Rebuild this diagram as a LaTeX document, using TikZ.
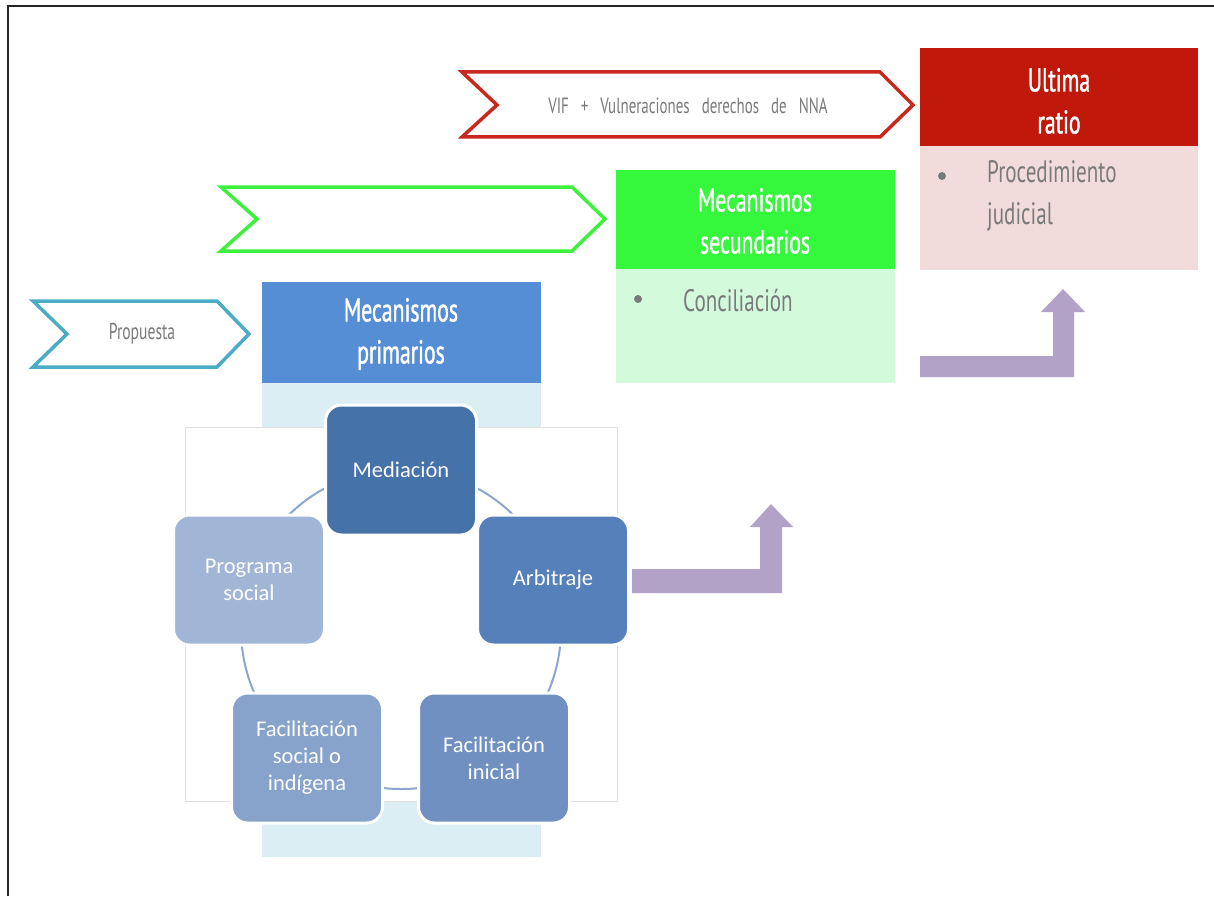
\documentclass[tikz,border=0pt]{standalone}
\usepackage{fontspec}
\setmainfont{Carlito}
\newfontfamily\cond[FakeStretch=0.68]{PT Sans}
\newfontfamily\condb[FakeStretch=0.66,FakeBold=1.2]{PT Sans}
\usetikzlibrary{positioning}
\definecolor{chevblue}{HTML}{4BACC6}
\definecolor{chevgreen}{HTML}{3CF03C}
\definecolor{chevred}{HTML}{C8281E}
\definecolor{hdblue}{HTML}{558ED5}
\definecolor{bdblue}{HTML}{DAEEF3}
\definecolor{hdgreen}{HTML}{35F83D}
\definecolor{bdgreen}{HTML}{D4FADC}
\definecolor{hdred}{HTML}{C0180A}
\definecolor{bdred}{HTML}{F2DCDB}
\definecolor{arrowpurple}{HTML}{B3A2C7}
\definecolor{txtgrey}{HTML}{7A7A7A}
\definecolor{cyc}{HTML}{8BA6CF}
\definecolor{cA}{HTML}{4672AA}
\definecolor{cB}{HTML}{5580B9}
\definecolor{cC}{HTML}{7190C2}
\definecolor{cD}{HTML}{87A3CB}
\definecolor{cE}{HTML}{A1B5D7}
\begin{document}
\begin{tikzpicture}[x=1pt,y=-1pt,
  chev/.style={line width=3.5pt, line join=miter, fill=white},
  chevtext/.style={text=txtgrey, font=\cond\fontsize{23}{26}\selectfont, inner sep=0pt},
  hdtext/.style={text=white, font=\condb\fontsize{33}{42}\selectfont, align=center, inner sep=0pt},
  bullettext/.style={text=txtgrey, font=\cond\fontsize{31}{42}\selectfont, align=left, inner sep=0pt, anchor=west},
  dot/.style={circle, fill=txtgrey, inner sep=0pt, minimum size=8pt},
  cycbox/.style={rounded corners=16pt, draw=white, line width=3pt, minimum width=151pt, minimum height=130pt,
     text=white, font=\fontsize{22.5}{27}\selectfont, align=center, inner sep=2pt},
  bigarrow/.style={fill=arrowpurple, draw=none}
]
\useasboundingbox (0,0) rectangle (1214,896);
\fill[white] (0,0) rectangle (1214,896);
% frame
\draw[line width=1.5pt, black!85] (8,896) -- (8,6) -- (1214,6);

% chevrons
\draw[chev, draw=chevred] (462,72) -- (880,72) -- (913,105) -- (880,137) -- (462,137) -- (497,105) -- cycle;
\node[chevtext, font=\cond\fontsize{22}{26}\selectfont] (vif) at (688,106) {VIF\hspace{12pt}+\hspace{12pt}Vulneraciones\hspace{12pt}derechos\hspace{12pt}de\hspace{12pt}NNA};
\draw[chev, draw=chevgreen] (221,187) -- (572,187) -- (605,219) -- (572,251) -- (221,251) -- (257,219) -- cycle;
\coordinate (greenmid) at (413,219);
\draw[chev, draw=chevblue] (33,301) -- (217,301) -- (249,334) -- (217,367) -- (33,367) -- (67,334) -- cycle;
\node[chevtext] (prop) at (142,334) {Propuesta};

% Mecanismos primarios
\fill[bdblue] (262,383) rectangle (541,857);
\fill[hdblue] (262,282) rectangle (541,383);
\node[hdtext] (prim) at (401,334) {Mecanismos\\primarios};

% Mecanismos secundarios
\fill[bdgreen] (616,269) rectangle (895,383);
\fill[hdgreen] (616,170) rectangle (895,269);
\node[hdtext] (sec) at (755,221) {Mecanismos\\secundarios};
\node[dot] (d1) at (638,299) {};
\node[bullettext] (conc) at (683,301) {Conciliación};

% Ultima ratio
\fill[bdred] (920,146) rectangle (1198,270);
\fill[hdred] (920,48) rectangle (1198,146);
\node[hdtext] (ult) at (1059,101) {Ultima\\ratio};
\node[dot] (d2) at (942,176) {};
\node[bullettext, anchor=north west] (proc) at (987,160) {Procedimiento\\judicial};

% white panel
\draw[draw=black!12, line width=1pt, fill=white] (185,427) rectangle (617,801);

% cycle
\draw[cyc, line width=2pt] (401,629) circle (160);
\node[cycbox, fill=cA] (med) at (401,470) {Mediación};
\node[cycbox, fill=cB] (arb) at (553,580) {Arbitraje};
\node[cycbox, fill=cC] (fini) at (494,758) {Facilitación\\inicial};
\node[cycbox, fill=cD] (fsoc) at (307,758) {Facilitación\\social o\\indígena};
\node[cycbox, fill=cE] (prog) at (249,580) {Programa\\social};

% purple bent arrows
\fill[bigarrow] (632,569) -- (760,569) -- (760,527) -- (750,527) -- (771,504) -- (793,527) -- (782,527) -- (782,593) -- (632,593) -- cycle;
\fill[bigarrow] (920,356) -- (1053,356) -- (1053,312) -- (1041,312) -- (1063,289) -- (1085,312) -- (1074,312) -- (1074,377) -- (920,377) -- cycle;
\end{tikzpicture}
\end{document}
